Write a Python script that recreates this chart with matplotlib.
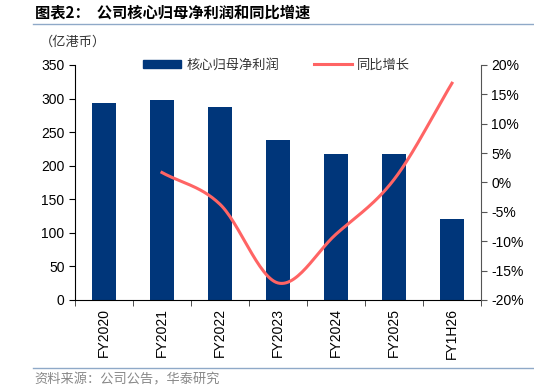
import numpy as np
import matplotlib
matplotlib.use('Agg')
import matplotlib.pyplot as plt
from matplotlib.lines import Line2D
from matplotlib.patches import Patch

plt.rcParams['font.family'] = ['Liberation Sans', 'Noto Sans CJK SC', 'DejaVu Sans']

years = ['FY2020', 'FY2021', 'FY2022', 'FY2023', 'FY2024', 'FY2025', 'FY1H26']
profit = [293, 298, 287, 238, 217, 218, 121]          # 亿港币
growth = [None, 1.7, -3.7, -17.1, -8.8, 0.5, 16.9]    # %

bar_color = '#00367A'
line_color = '#FF6464'


def smooth(xs, ys, n=30):
    # catmull-rom through the points, roughly like excel's smoothed line
    xs = np.asarray(xs, float)
    ys = np.asarray(ys, float)
    px = np.concatenate([[2 * xs[0] - xs[1]], xs, [2 * xs[-1] - xs[-2]]])
    py = np.concatenate([[2 * ys[0] - ys[1]], ys, [2 * ys[-1] - ys[-2]]])
    out_x, out_y = [], []
    for i in range(1, len(px) - 2):
        t = np.linspace(0, 1, n)
        for p, out in ((px, out_x), (py, out_y)):
            p0, p1, p2, p3 = p[i - 1], p[i], p[i + 1], p[i + 2]
            out.extend(0.5 * (2 * p1 + (-p0 + p2) * t
                              + (2 * p0 - 5 * p1 + 4 * p2 - p3) * t ** 2
                              + (-p0 + 3 * p1 - 3 * p2 + p3) * t ** 3))
    return out_x, out_y


fig = plt.figure(figsize=(5.34, 3.92), dpi=100)
ax = fig.add_axes([0.1404, 0.2347, 0.7603, 0.5995])
ax2 = ax.twinx()

x = np.arange(len(years))
ax.bar(x, profit, width=0.4, color=bar_color, zorder=2)
ax.set_xlim(-0.5, len(years) - 0.5)
ax.set_ylim(0, 350)
ax.set_yticks(range(0, 351, 50))
ax.set_xticks(x)
ax.set_xticklabels(years, rotation=90, fontsize=10)
ax.set_xticks(np.arange(len(years) + 1) - 0.5, minor=True)
ax.tick_params(axis='x', which='major', length=0, pad=6)
ax.tick_params(axis='x', which='minor', length=4, direction='out', color='#333333')
ax.tick_params(axis='y', labelsize=10, length=4, direction='out')

gx = [i for i, g in enumerate(growth) if g is not None]
gy = [g for g in growth if g is not None]
sx, sy = smooth(gx, gy)
ax2.plot(sx, sy, color=line_color, lw=2.2, zorder=3)
ax2.set_ylim(-20, 20)
ax2.set_yticks(range(-20, 21, 5))
ax2.set_yticklabels([f'{v}%' for v in range(-20, 21, 5)])
ax2.tick_params(axis='y', labelsize=10, length=4, direction='out', color='#555555')

for a in (ax, ax2):
    a.spines['top'].set_visible(False)
ax.spines['right'].set_visible(False)
ax2.spines['left'].set_visible(False)
ax2.spines['bottom'].set_visible(False)
ax2.spines['right'].set_color('#555555')

handles = [Patch(color=bar_color), Line2D([], [], color=line_color, lw=2.2)]
leg = fig.legend(handles, ['核心归母净利润', '同比增长'], loc='center',
                 bbox_to_anchor=(0.518, 0.834), ncol=2, frameon=False,
                 fontsize=9.5, handlelength=2.9, handleheight=0.5,
                 columnspacing=2.6, handletextpad=0.4)
for t in leg.get_texts():
    t.set_family(['Noto Sans CJK SC'])
    t.set_color('#333333')

fig.text(0.066, 0.968, '图表2：  公司核心归母净利润和同比增速', fontsize=11,
         fontweight='bold', family=['Noto Sans CJK SC'], va='center')
fig.add_artist(Line2D([0.062, 1.0], [0.939, 0.939], color='#8FA9C8', lw=1))
fig.text(0.075, 0.893, '（亿港币）', fontsize=9.5, family=['Noto Sans CJK SC'],
         va='center', color='#333333')
fig.add_artist(Line2D([0.062, 1.0], [0.061, 0.061], color='#8FA9C8', lw=1))
fig.text(0.064, 0.030, '资料来源：公司公告，华泰研究', fontsize=9.5,
         family=['Noto Sans CJK SC'], va='center', color='#888888')

fig.savefig('out.png', dpi=100)
